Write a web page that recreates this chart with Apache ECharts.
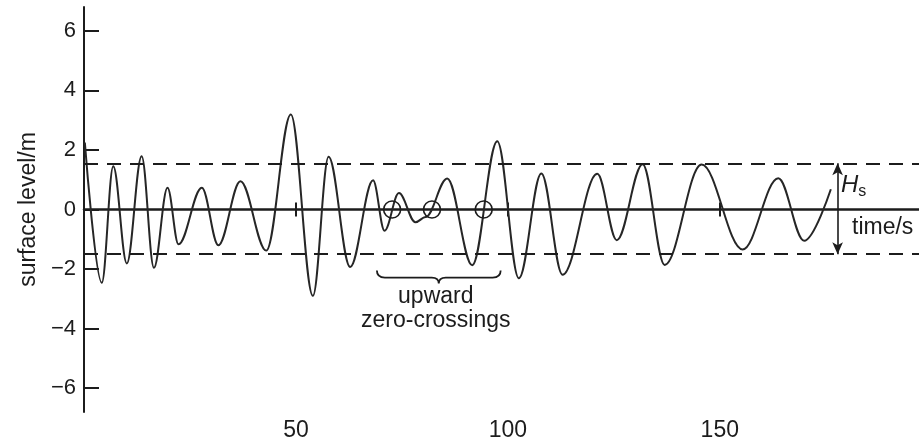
<!DOCTYPE html>
<html>
<head>
<meta charset="utf-8">
<script src="https://cdn.jsdelivr.net/npm/echarts@6/dist/echarts.min.js"></script>
<style>
  html, body { margin: 0; padding: 0; background: #ffffff; }
  #chart { width: 919px; height: 440px; }
</style>
</head>
<body>
<div id="chart"></div>
<script>
// Wave record: crests and troughs of the surface level [time (s)] / [level (m)]
const waveTime = [0.2, 4.2, 6.9, 10.1, 13.6, 16.5, 19.7, 22.3, 27.8, 31.7,
  36.9, 43.0, 48.8, 54.0, 57.7, 62.8, 68.2, 70.9, 74.3, 78.2,
  80.6, 85.7, 91.6, 97.5, 102.6, 107.9, 112.9, 121.1, 125.7, 131.8,
  137.0, 145.7, 155.4, 163.8, 169.9, 176.2];
const waveLevel = [2.25, -2.46, 1.45, -1.81, 1.79, -1.96, 0.73, -1.17, 0.73, -1.2,
  0.95, -1.38, 3.19, -2.9, 1.77, -1.93, 0.98, -0.71, 0.55, -0.43,
  -0.25, 1.04, -1.87, 2.29, -2.31, 1.21, -2.19, 1.2, -1.03, 1.52,
  -1.86, 1.51, -1.34, 1.05, -1.05, 0.68];

// Axis ticks
const yTicks = [-6, -4, -2, 0, 2, 4, 6];
const xTicks = [50, 100, 150];

// Upward zero-crossings marked with circles [time (s)]
const upCrossTimes = [72.7, 82.1, 94.3];

// Significant wave height band
const hsUpper = 1.55;
const hsLower = -1.5;
const hsArrowTime = 177.8;

// Brace under the marked crossings: start time, end time, top level
const braceSpan = [69.1, 98.3];
const braceTop = -2.05;

// Text anchors [time, level]
const hsLabelAt = [178.6, 0.8];
const timeLabelAt = [181.2, -0.6];

const FONT = '"Liberation Sans", Arial, Helvetica, sans-serif';
const INK = '#1c1c1c';

const chart = echarts.init(document.getElementById('chart'));

const yRange = { min: -6.8, max: 6.8 };
const xRange = { min: 0, max: 197 };

const option = {
  animation: false,
  backgroundColor: '#ffffff',
  grid: { left: 84, right: 0, top: 7, bottom: 28, containLabel: false, outerBoundsMode: 'none' },
  xAxis: [
    {
      // time axis drawn along the zero level, ticks hanging below it
      type: 'value', position: 'bottom', min: xRange.min, max: xRange.max,
      axisLine: { show: true, onZero: true, onZeroAxisIndex: 0, lineStyle: { color: INK, width: 2.5 } },
      axisTick: { show: true, inside: false, length: 7, customValues: xTicks,
                  lineStyle: { color: INK, width: 2 } },
      axisLabel: { show: false },
      splitLine: { show: false }
    },
    {
      // upper half of the time ticks on the zero level
      type: 'value', position: 'top', min: xRange.min, max: xRange.max,
      axisLine: { show: false, onZero: true, onZeroAxisIndex: 1 },
      axisTick: { show: true, inside: false, length: 7, customValues: xTicks,
                  lineStyle: { color: INK, width: 2 } },
      axisLabel: { show: false },
      splitLine: { show: false }
    },
    {
      // time labels along the bottom edge
      type: 'value', position: 'bottom', min: xRange.min, max: xRange.max,
      axisLine: { show: false, onZero: false },
      axisTick: { show: false },
      axisLabel: { show: true, customValues: xTicks, margin: 7,
                   fontFamily: FONT, fontSize: 23, color: INK },
      splitLine: { show: false }
    }
  ],
  yAxis: [
    {
      type: 'value', min: yRange.min, max: yRange.max, position: 'left',
      name: 'surface level/m', nameLocation: 'middle', nameGap: 42,
      nameTextStyle: { fontFamily: FONT, fontSize: 23, color: INK },
      axisLine: { show: true, onZero: false, lineStyle: { color: INK, width: 2 } },
      axisTick: { show: true, inside: true, length: 15, customValues: yTicks,
                  lineStyle: { color: INK, width: 2 } },
      axisLabel: { show: true, customValues: yTicks, margin: 8,
                   fontFamily: FONT, fontSize: 22, color: INK,
                   formatter: v => String(v).replace('-', '\u2212') },
      splitLine: { show: false }
    },
    {
      // twin scale for the upper tick half on the zero level
      type: 'value', min: yRange.min, max: yRange.max, position: 'right',
      axisLine: { show: false, onZero: false },
      axisTick: { show: false },
      axisLabel: { show: false },
      splitLine: { show: false }
    }
  ],
  series: [
    {
      type: 'line',
      data: waveTime.map((t, i) => [t, waveLevel[i]]),
      smooth: 0.36,
      smoothMonotone: 'x',
      showSymbol: false,
      lineStyle: { color: '#262626', width: 2 },
      z: 3,
      markLine: {
        silent: true,
        symbol: 'none',
        label: { show: false },
        lineStyle: { color: INK, width: 2, type: [14, 9] },
        data: [
          { yAxis: hsUpper },
          { yAxis: hsLower },
          [
            { coord: [hsArrowTime, hsUpper], symbol: 'arrow', symbolSize: [8, 12],
              lineStyle: { type: 'solid', width: 1.6, color: INK } },
            { coord: [hsArrowTime, hsLower], symbol: 'arrow', symbolSize: [8, 12] }
          ]
        ]
      }
    },
    {
      type: 'scatter',
      data: upCrossTimes.map(t => [t, 0]),
      symbol: 'circle',
      symbolSize: 17,
      itemStyle: { color: 'rgba(0,0,0,0)', borderColor: INK, borderWidth: 1.6, opacity: 1 },
      z: 4,
      silent: true
    },
    {
      type: 'custom',
      silent: true,
      data: [[braceSpan[0], braceSpan[1], braceTop]],
      renderItem: function (params, api) {
        const a = api.coord([api.value(0), api.value(2)]);
        const b = api.coord([api.value(1), api.value(2)]);
        const mid = (a[0] + b[0]) / 2;
        const y0 = a[1];
        const d = 7;
        const path = [
          'M', a[0], y0,
          'Q', a[0], y0 + d, a[0] + 8, y0 + d,
          'L', mid - 7, y0 + d,
          'Q', mid, y0 + d, mid, y0 + d + 6,
          'Q', mid, y0 + d, mid + 7, y0 + d,
          'L', b[0] - 8, y0 + d,
          'Q', b[0], y0 + d, b[0], y0
        ].join(' ');
        return {
          type: 'group',
          children: [
            {
              type: 'path',
              shape: { pathData: path },
              style: { stroke: INK, lineWidth: 1.8, fill: null }
            },
            {
              type: 'text',
              x: mid - 3, y: y0 + d + 7,
              style: {
                text: 'upward\nzero-crossings',
                textAlign: 'center', textVerticalAlign: 'top',
                font: '23px ' + FONT, lineHeight: 24, fill: INK
              }
            }
          ]
        };
      }
    },
    {
      type: 'scatter',
      silent: true,
      symbolSize: 0,
      itemStyle: { opacity: 1 },
      data: [
        { value: hsLabelAt,
          label: { show: true, position: 'right', distance: 0,
                   formatter: '{h|H}{s|s}',
                   rich: {
                     h: { fontFamily: FONT, fontStyle: 'italic', fontSize: 24, color: INK },
                     s: { fontFamily: FONT, fontSize: 16, color: INK, verticalAlign: 'bottom', padding: [11, 0, 0, 0] }
                   } } },
        { value: timeLabelAt,
          label: { show: true, position: 'right', distance: 0, formatter: 'time/s',
                   fontFamily: FONT, fontSize: 23, color: INK } }
      ]
    }
  ]
};

chart.setOption(option);
</script>
</body>
</html>
